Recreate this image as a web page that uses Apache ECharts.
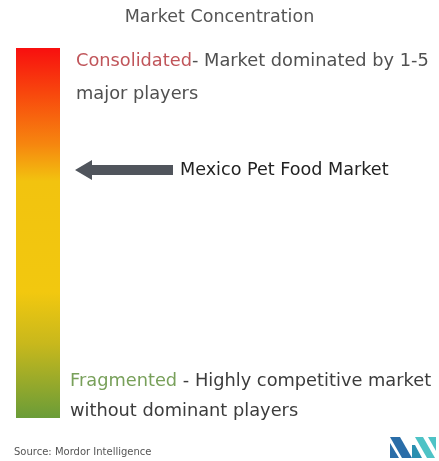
<!DOCTYPE html>
<html>
<head>
<meta charset="utf-8">
<script src="https://cdn.jsdelivr.net/npm/echarts@6/dist/echarts.min.js"></script>
<style>
  html, body { margin: 0; padding: 0; background: #fff; }
  #chart { width: 439px; height: 461px; }
</style>
</head>
<body>
<div id="chart"></div>
<script>
// scale of market concentration, 0 = fragmented, 100 = consolidated
const scaleCategories = ['Concentration']
const scaleValues = [100]
const marketNames = ['Mexico Pet Food Market']
const marketPositions = [67]
const titleText = 'Market Concentration'
const topLabel = ['Consolidated', '- Market dominated by 1-5', 'major players']
const bottomLabel = ['Fragmented', ' - Highly competitive market', 'without dominant players']
const sourceText = 'Source: Mordor Intelligence'

const fontFamily = '"DejaVu Sans", sans-serif'
const arrowPath = 'path://M0,10 L17,0 L17,5 L98,5 L98,15 L17,15 L17,20 Z'

const chart = echarts.init(document.getElementById('chart'))

chart.setOption({
  animation: false,
  title: {
    text: titleText,
    left: 'center',
    top: 3,
    textStyle: { fontFamily, fontSize: 17.5, fontWeight: 'normal', color: '#555555' }
  },
  grid: [
    { left: 16, width: 44, top: 48, bottom: 43 },
    { left: 75, right: 6, top: 48, bottom: 43 }
  ],
  xAxis: [
    { type: 'category', gridIndex: 0, data: scaleCategories, show: false },
    { type: 'value', gridIndex: 1, min: 0, max: 100, show: false }
  ],
  yAxis: [
    { type: 'value', gridIndex: 0, min: 0, max: 100, show: false },
    { type: 'value', gridIndex: 1, min: 0, max: 100, show: false }
  ],
  series: [
    {
      type: 'bar',
      xAxisIndex: 0,
      yAxisIndex: 0,
      barWidth: '100%',
      data: scaleValues,
      itemStyle: {
        color: new echarts.graphic.LinearGradient(0, 0, 0, 1, [
          { offset: 0, color: '#f80f0f' },
          { offset: 0.12, color: '#f8460d' },
          { offset: 0.26, color: '#f6860f' },
          { offset: 0.36, color: '#f2c30f' },
          { offset: 0.66, color: '#f2c80f' },
          { offset: 0.8, color: '#c8b81c' },
          { offset: 1, color: '#6a9c38' }
        ])
      }
    },
    {
      type: 'scatter',
      xAxisIndex: 1,
      yAxisIndex: 1,
      symbol: arrowPath,
      symbolSize: [98, 20],
      symbolOffset: [49, 0],
      itemStyle: { color: '#50555c', opacity: 1 },
      data: marketPositions.map((v, i) => ({ value: [0, v], name: marketNames[i] })),
      label: {
        show: true,
        position: 'right',
        distance: 7,
        formatter: (p) => p.name,
        fontFamily,
        fontSize: 17.6,
        color: '#222222'
      }
    }
  ],
  graphic: [
    {
      type: 'text',
      left: 76,
      top: 52,
      style: {
        text: '{a|' + topLabel[0] + '}{b|' + topLabel[1] + '}\n{b|' + topLabel[2] + '}',
        rich: {
          a: { fontFamily, fontSize: 17.8, fill: '#c0555a', lineHeight: 33 },
          b: { fontFamily, fontSize: 17.8, fill: '#505050', lineHeight: 33 }
        }
      }
    },
    {
      type: 'text',
      left: 70,
      top: 372,
      style: {
        text: '{a|' + bottomLabel[0] + '}{b|' + bottomLabel[1] + '}\n{b|' + bottomLabel[2] + '}',
        rich: {
          a: { fontFamily, fontSize: 17.8, fill: '#78a05a', lineHeight: 30 },
          b: { fontFamily, fontSize: 17.8, fill: '#3c3c3c', lineHeight: 30 }
        }
      }
    },
    {
      type: 'text',
      left: 14,
      top: 447,
      style: { text: sourceText, fontFamily, fontSize: 10, fill: '#555555' }
    },
    {
      type: 'group',
      left: 390,
      top: 437,
      children: [
        { type: 'polygon', shape: { points: [[0, 0], [10, 0], [22, 21], [12, 21]] }, style: { fill: '#2a6da8' } },
        { type: 'polygon', shape: { points: [[0, 6], [9, 21], [0, 21]] }, style: { fill: '#2a6da8' } },
        { type: 'polygon', shape: { points: [[25, 0], [33, 0], [45, 21], [37, 21]] }, style: { fill: '#4ec3c6' } },
        { type: 'polygon', shape: { points: [[22, 8], [25, 8], [32, 21], [22, 21]] }, style: { fill: '#2a8fb0' } },
        { type: 'polygon', shape: { points: [[38, 0], [46, 0], [46, 14]] }, style: { fill: '#4ec3c6' } }
      ]
    }
  ]
})
</script>
</body>
</html>
